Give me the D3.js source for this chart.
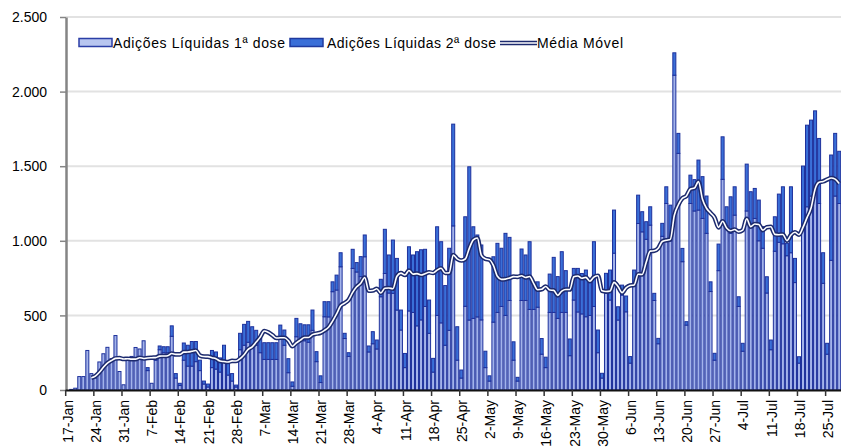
<!DOCTYPE html>
<html>
<head>
<meta charset="utf-8">
<script src="https://cdn.jsdelivr.net/npm/d3@7"></script>
<style>
body { margin: 0; background: #fff; }
svg { display: block; font-family: "Liberation Sans", Arial, sans-serif; }
</style>
</head>
<body>
<svg id="chart" width="841" height="448"></svg>
<script>
// one bar per day, 17-Jan to 28-Jul
var firstDay = new Date(Date.UTC(2021, 0, 17)),
	endDay = new Date(Date.UTC(2021, 6, 29));

var dose1 = [
	0, 4, 12, 90, 90, 265, 110,
	80, 188, 243, 286, 210, 365, 124,
	35, 205, 225, 285, 275, 330, 130,
	45, 200, 270, 250, 250, 360, 80,
	30, 200, 160, 160, 190, 130, 40,
	20, 150, 140, 120, 200, 100, 60,
	20, 270, 300, 320, 290, 300, 250,
	205, 205, 205, 205, 357, 300, 116,
	25, 357, 330, 330, 320, 400, 190,
	50, 491, 490, 659, 670, 826, 345,
	225, 815, 791, 760, 893, 255, 310,
	275, 625, 781, 650, 648, 536, 402,
	150, 530, 520, 430, 470, 560, 380,
	120, 500, 450, 300, 400, 1100, 200,
	80, 561, 469, 480, 490, 470, 150,
	60, 455, 520, 560, 500, 600, 200,
	60, 600, 600, 540, 540, 555, 240,
	150, 520, 520, 480, 520, 520, 230,
	603, 523, 510, 491, 500, 560, 250,
	80, 648, 603, 917, 469, 636, 524,
	180, 700, 1116, 1060, 1010, 1105, 600,
	310, 1030, 1250, 1000, 2110, 1586, 860,
	435, 1250, 1200, 1206, 1150, 1050, 660,
	200, 800, 1412, 1100, 1050, 1172, 560,
	260, 1200, 1100, 1150, 1000, 950, 650,
	270, 930, 990, 980, 900, 920, 720,
	180, 1100, 1228, 1300, 1350, 1250, 715,
	240, 869, 1300, 1250
];
var dose2 = [
	0, 0, 0, 0, 0, 0, 0,
	0, 0, 0, 0, 0, 0, 0,
	0, 0, 0, 0, 0, 0, 20,
	0, 10, 25, 40, 40, 70, 30,
	15, 115, 140, 165, 135, 70, 20,
	20, 115, 115, 95, 100, 80, 50,
	13, 110, 140, 140, 134, 100, 95,
	112, 112, 112, 112, 78, 102, 94,
	29, 123, 114, 107, 117, 136, 67,
	45, 101, 102, 66, 100, 94, 35,
	25, 128, 63, 134, 146, 40, 81,
	60, 117, 296, 255, 357, 346, 134,
	95, 430, 385, 497, 470, 383, 223,
	92, 594, 544, 400, 550, 682, 224,
	54, 600, 1027, 614, 549, 502, 110,
	35, 438, 463, 390, 550, 423, 123,
	25, 345, 305, 454, 185, 170, 105,
	70, 257, 369, 280, 407, 280, 112,
	212, 292, 271, 313, 248, 434, 152,
	32, 134, 201, 289, 89, 67, 106,
	44, 104, 190, 135, 118, 123, 48,
	36, 87, 112, 239, 150, 134, 89,
	23, 190, 210, 335, 280, 250, 65,
	46, 178, 285, 128, 245, 190, 65,
	53, 314, 229, 201, 273, 145, 109,
	65, 231, 323, 382, 83, 442, 162,
	43, 401, 547, 509, 521, 436, 205,
	73, 706, 420, 350
];
var yTicks = [0, 500, 1000, 1500, 2000, 2500];
var xTickLabels = ["17-Jan", "24-Jan", "31-Jan", "7-Feb", "14-Feb", "21-Feb", "28-Feb",
	"7-Mar", "14-Mar", "21-Mar", "28-Mar", "4-Apr", "11-Apr", "18-Apr", "25-Apr",
	"2-May", "9-May", "16-May", "23-May", "30-May", "6-Jun", "13-Jun", "20-Jun",
	"27-Jun", "4-Jul", "11-Jul", "18-Jul", "25-Jul"];
var legendLabels = ["Adições Líquidas 1ª dose", "Adições Líquidas 2ª dose", "Média Móvel"];

var svg = d3.select("#chart");
var lightFill = "#a3b3ea", darkFill = "#3a6fd8", barStroke = "#1e319c", lineColor = "#1c2a6e";

var days = d3.utcDay.range(firstDay, endDay);
var rows = days.map(function(d, i) { return {date: d, d1: dose1[i], d2: dose2[i]}; });

var x = d3.scaleUtc()
	.domain([firstDay, endDay])
	.range([65.2, 841.2]);
var step = x(days[1]) - x(days[0]);
var y = d3.scaleLinear()
	.domain([0, 2500])
	.range([390, 17]);

// gridlines
svg.append("g").selectAll("line")
	.data(yTicks.slice(1))
	.enter().append("line")
	.attr("x1", 66).attr("x2", 841)
	.attr("y1", function(d) { return y(d); })
	.attr("y2", function(d) { return y(d); })
	.attr("stroke", "#e2e2e2")
	.attr("stroke-width", 2);

var series = d3.stack().keys(["d1", "d2"])(rows);
var fills = [lightFill, darkFill];

svg.append("g").selectAll("g")
	.data(series)
	.enter().append("g")
	.attr("fill", function(s, i) { return fills[i]; })
	.selectAll("rect")
	.data(function(s) { return s.filter(function(p) { return p[1] > p[0]; }); })
	.enter().append("rect")
	.attr("x", function(p) { return x(p.data.date) + 0.5; })
	.attr("width", step - 1)
	.attr("y", function(p) { return y(p[1]); })
	.attr("height", function(p) { return y(p[0]) - y(p[1]); })
	.attr("stroke", barStroke)
	.attr("stroke-width", 1);

// 7 day moving average of the total
var avg = rows.map(function(r, i) {
	if (i < 6) return null;
	return d3.mean(rows.slice(i - 6, i + 1), function(q) { return q.d1 + q.d2; });
});
var line = d3.line()
	.defined(function(v) { return v !== null; })
	.x(function(v, i) { return x(days[i]) + step / 2; })
	.y(function(v) { return y(v); })
	.curve(d3.curveMonotoneX);

svg.append("path")
	.datum(avg)
	.attr("d", line)
	.attr("fill", "none")
	.attr("stroke", lineColor)
	.attr("stroke-width", 4.6);
svg.append("path")
	.datum(avg)
	.attr("d", line)
	.attr("fill", "none")
	.attr("stroke", "#fff")
	.attr("stroke-width", 1.6);

// axes
var ptBR = d3.formatLocale({decimal: ",", thousands: ".", grouping: [3], currency: ["", ""]});
var yAxis = svg.append("g")
	.attr("transform", "translate(66,0)")
	.call(d3.axisLeft(y).tickValues(yTicks).tickSize(6).tickSizeOuter(0).tickPadding(13).tickFormat(ptBR.format(",")));
yAxis.select(".domain").attr("stroke", "#858585").attr("stroke-width", 2.5);
yAxis.selectAll(".tick line").attr("stroke", "#858585").attr("stroke-width", 1.5);
yAxis.selectAll(".tick text").attr("fill", "#000").style("font-size", "14px").attr("dy", "0.34em");

var xAxis = svg.append("g")
	.attr("transform", "translate(0,390)")
	.call(d3.axisBottom(x)
		.tickValues(xTickLabels.map(function(l, i) { return days[i * 7]; }))
		.tickSize(6).tickSizeOuter(0)
		.tickFormat(function(d, i) { return xTickLabels[i]; }));
xAxis.select(".domain").attr("stroke", "#111").attr("stroke-width", 2);
xAxis.selectAll(".tick line").attr("stroke", "#333").attr("stroke-width", 1.5);
xAxis.selectAll(".tick text")
	.attr("fill", "#000")
	.style("font-size", "14px")
	.attr("text-anchor", "end")
	.attr("transform", "rotate(-90)")
	.attr("x", -10)
	.attr("y", 2.3)
	.attr("dy", "0.35em");

// legend
var legend = svg.append("g");
var swatchX = [79, 290, 500], textX = [113, 327, 537], textW = [172, 169, 86];
legend.selectAll("rect")
	.data(fills)
	.enter().append("rect")
	.attr("x", function(f, i) { return swatchX[i]; })
	.attr("y", 38.5)
	.attr("width", 33)
	.attr("height", 8)
	.attr("fill", function(f, i) { return i == 0 ? "#b8c6f0" : darkFill; })
	.attr("stroke", function(f, i) { return i == 0 ? "#2b3ea6" : "#1f3a9e"; })
	.attr("stroke-width", 1.5);
legend.append("line")
	.attr("x1", swatchX[2]).attr("x2", swatchX[2] + 37)
	.attr("y1", 43).attr("y2", 43)
	.attr("stroke", lineColor).attr("stroke-width", 4.6);
legend.append("line")
	.attr("x1", swatchX[2]).attr("x2", swatchX[2] + 37)
	.attr("y1", 43).attr("y2", 43)
	.attr("stroke", "#fff").attr("stroke-width", 1.6);
legend.selectAll("text")
	.data(legendLabels)
	.enter().append("text")
	.attr("x", function(t, i) { return textX[i]; })
	.attr("y", 47.5)
	.attr("textLength", function(t, i) { return textW[i]; })
	.attr("lengthAdjust", "spacing")
	.style("font-size", "14px")
	.attr("fill", "#000")
	.text(function(t) { return t; });
</script>
</body>
</html>
